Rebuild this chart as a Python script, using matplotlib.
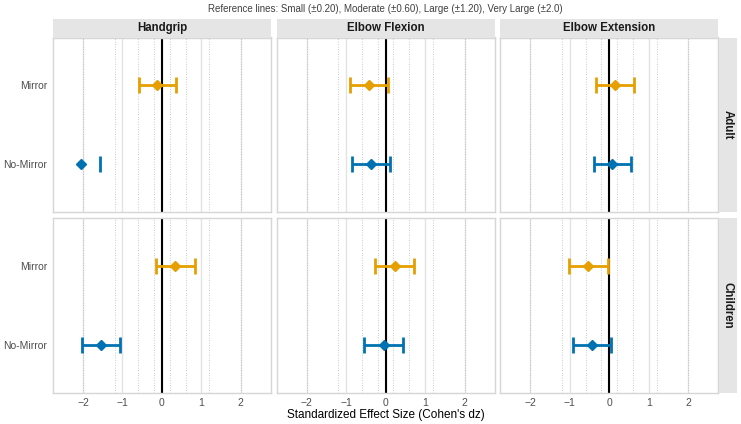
import numpy as np
import matplotlib as mpl
mpl.use('Agg')
import matplotlib.pyplot as plt

plt.rcParams['font.family'] = ['Liberation Sans', 'DejaVu Sans']

muscles = ["Handgrip", "Elbow Flexion", "Elbow Extension"]
groups = ["Adult", "Children"]
conditions = ["Mirror", "No-Mirror"]
cond_colors = {"Mirror": "#E69F00", "No-Mirror": "#0072B2"}

# effect size, lower CI, upper CI  (rows: Mirror, No-Mirror; cols: muscles)
adult_es = [[-0.12, -0.43, 0.14], [-2.04, -0.37, 0.08]]
adult_lo = [[-0.59, -0.90, -0.33], [np.nan, -0.85, -0.40]]
adult_hi = [[0.36, 0.05, 0.62], [-1.56, 0.10, 0.56]]
child_es = [[0.33, 0.24, -0.54], [-1.54, -0.05, -0.44]]
child_lo = [[-0.16, -0.26, -1.02], [-2.02, -0.54, -0.93]]
child_hi = [[0.83, 0.72, -0.04], [-1.05, 0.44, 0.04]]

ref_lines = [0.2, 0.6, 1.2, 2.0]
xticks = [-2, -1, 0, 1, 2]

data = {"Adult": (adult_es, adult_lo, adult_hi),
        "Children": (child_es, child_lo, child_hi)}

W, H = 741, 424
fig = plt.figure(figsize=(W / 100, H / 100), dpi=100)

def px(x0, y0, w, h):
    return [x0 / W, 1 - (y0 + h) / H, w / W, h / H]

lefts = [53, 276.7, 500.4]
pw = 217.8
tops = [37.5, 218]
ph = 174.5
border = "#D6D6D6"
strip_fill = "#E5E5E5"

for r, g in enumerate(groups):
    es, lo, hi = data[g]
    for c, m in enumerate(muscles):
        ax = fig.add_axes(px(lefts[c], tops[r], pw, ph))
        ax.set_xlim(-2.76, 2.76)
        ax.set_ylim(2.6, 0.4)
        for t in xticks:
            ax.axvline(t, color="#E3E3E3", lw=1.0, zorder=0)
        for v in ref_lines:
            for s in (-1, 1):
                ax.axvline(s * v, color="#B8B8B8", lw=0.6, ls=(0, (1, 2)), zorder=1)
        ax.axvline(0, color="black", lw=1.5, zorder=2)
        for i, cond in enumerate(conditions):
            y = i + 1
            col = cond_colors[cond]
            e, l, h = es[i][c], lo[i][c], hi[i][c]
            if not np.isnan(l):
                ax.hlines(y, l, h, color=col, lw=2, zorder=3)
                ax.vlines(l, y - 0.1, y + 0.1, color=col, lw=2, zorder=3)
            ax.vlines(h, y - 0.1, y + 0.1, color=col, lw=2, zorder=3)
            ax.plot(e, y, marker="D", ms=4.8, color=col, zorder=4, mec=col)
        for sp in ax.spines.values():
            sp.set_color(border)
            sp.set_linewidth(1.0)
        ax.set_xticks(xticks)
        ax.set_xticklabels(["\u2212" + str(-t) if t < 0 else str(t) for t in xticks])
        ax.set_yticks([1, 2])
        ax.set_yticklabels(conditions)
        ax.tick_params(length=0, labelsize=7.5, colors="#4D4D4D", pad=4)
        if c > 0:
            ax.tick_params(labelleft=False)
        if r == 0:
            ax.tick_params(labelbottom=False)
            sax = fig.add_axes(px(lefts[c], 19, pw, 18.5))
            sax.set_facecolor(strip_fill)
            sax.set_xticks([]); sax.set_yticks([])
            for sp in sax.spines.values():
                sp.set_visible(False)
            sax.text(0.5, 0.5, m, ha="center", va="center", fontsize=8.3,
                     fontweight="bold", color="#1A1A1A", transform=sax.transAxes)
        if c == 2:
            sax = fig.add_axes(px(718.5, tops[r], 18.5, ph))
            sax.set_facecolor(strip_fill)
            sax.set_xticks([]); sax.set_yticks([])
            for sp in sax.spines.values():
                sp.set_visible(False)
            sax.text(0.5, 0.5, g, ha="center", va="center", fontsize=8.3,
                     fontweight="bold", color="#1A1A1A", rotation=-90,
                     transform=sax.transAxes)

fig.text(0.5 * (53 + 718.2) / W, 1 - 8.5 / H,
         "Reference lines: Small (\u00b10.20), Moderate (\u00b10.60), Large (\u00b11.20), Very Large (\u00b12.0)",
         ha="center", va="center", fontsize=7, color="#404040")
fig.text(0.5 * (53 + 718.2) / W, 1 - 415 / H, "Standardized Effect Size (Cohen's dz)",
         ha="center", va="center", fontsize=8.5, color="black")

plt.savefig("out.png", dpi=100)
